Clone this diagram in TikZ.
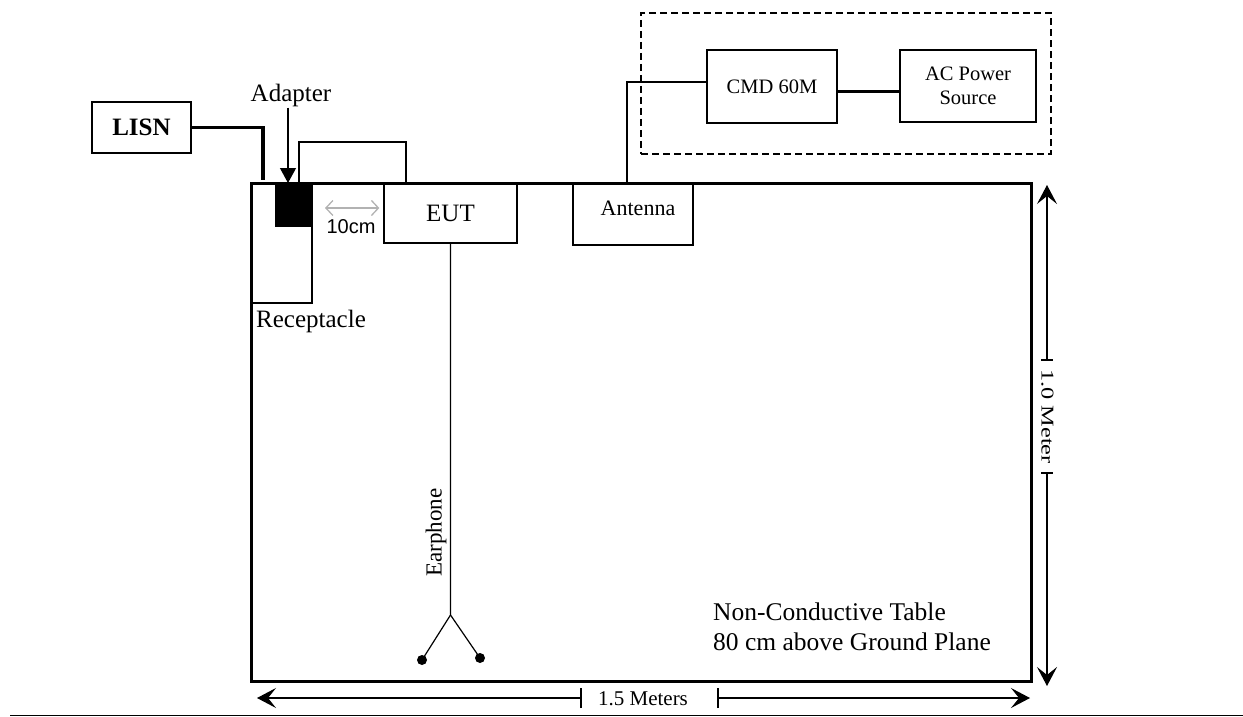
\documentclass[tikz,border=0pt]{standalone}
\usepackage{fontspec}
\setmainfont{Liberation Serif}
\newfontfamily\arialfont{Liberation Sans}
\usetikzlibrary{arrows.meta}
\tikzset{
  boxnode/.style={draw,line width=1.3pt,inner sep=0pt,rectangle},
  thickcable/.style={line width=3.2pt},
  thincable/.style={line width=1.2pt},
  dimline/.style={line width=1.2pt},
  lbl/.style={inner sep=0pt},
  fbig/.style={font=\fontsize{25}{29}\selectfont},
  fmid/.style={font=\fontsize{20.5}{24}\selectfont},
  dot/.style={circle,fill=black,inner sep=0pt,minimum size=10pt}
}
\begin{document}
\begin{tikzpicture}[x=1pt,y=-1pt,>={Stealth[length=19pt,width=20pt,inset=8pt]}]
\useasboundingbox (0,0) rectangle (1243,717);
% table
\node[boxnode,line width=3pt,minimum width=780pt,minimum height=498pt] (table) at (641,432) {};
% LISN
\node[boxnode,minimum width=99pt,minimum height=51pt,font=\fontsize{25}{29}\selectfont\bfseries] (lisn) at (141.5,127.5) {LISN};
% receptacle and adapter
\node[boxnode,minimum width=61pt,minimum height=120pt] (recept) at (281.5,243) {};
\node[fill=black,inner sep=0pt,minimum width=36pt,minimum height=44pt] (adapter) at (293,205) {};
\node[lbl,fbig,anchor=base west] (receptlab) at (256,327) {Receptacle};
\node[lbl,fbig,anchor=base] (adaplab) at (291,102) {Adapter};
\coordinate (adtip) at (288,183);
\draw[thincable,-{Triangle[length=15pt,width=16pt]}] (adaplab.south -| adtip) -- (adtip);
\coordinate (lisnend) at (263,180);
\draw[thickcable] (lisn.east) -| (lisnend);
% EUT
\node[boxnode,minimum width=133pt,minimum height=59pt,fbig] (eut) at (450.5,213.5) {EUT};
\coordinate (loopa) at (299,183);
\coordinate (loopb) at (406,142);
\draw[line width=1.3pt] (loopa) |- (loopb) -- (loopb |- eut.north);
% 10cm
\coordinate (tenl) at (325,208);
\draw[gray!60,line width=1.3pt,shorten >=4pt,{Straight Barb[length=7pt,width=15pt]}-{Straight Barb[length=7pt,width=15pt]}] (tenl) -- (tenl -| eut.west);
\node[lbl,font=\arialfont\fontsize{20}{24}\selectfont,anchor=base] (tenlab) at (351,233) {10cm};
% earphone
\coordinate (split) at (eut.south |- 0,615);
\node[dot] (ear1) at (422,660) {};
\node[dot] (ear2) at (480,658) {};
\draw[thincable] (eut.south) -- (split) -- (ear1.center);
\draw[thincable] (split) -- (ear2.center);
\node[lbl,rotate=90,anchor=base west,font=\fontsize{23}{27}\selectfont] (earlab) at (441.5,577) {Earphone};
% test equipment
\node[draw,line width=1.3pt,dash pattern=on 7pt off 4pt,inner sep=0pt,minimum width=410pt,minimum height=141pt] (group) at (846,83.5) {};
\node[boxnode,minimum width=130pt,minimum height=73pt,fmid] (cmd) at (772,86.5) {CMD 60M};
\node[boxnode,minimum width=136pt,minimum height=72pt,fmid,align=center] (ac) at (968,86) {AC Power\\Source};
\coordinate (cmdout) at ([yshift=-5pt]cmd.east);
\draw[line width=3pt] (cmdout) -- (cmdout -| ac.west);
% antenna
\node[boxnode,minimum width=120pt,minimum height=62pt] (ant) at (633,214) {};
\node[lbl,font=\fontsize{22}{26}\selectfont,anchor=base] (antlab) at (638,215) {Antenna};
\coordinate (antc) at (627,183);
\coordinate (cmdin) at ([yshift=4.5pt]cmd.west);
\draw[thincable] (antc) |- (cmdin);
% vertical dimension
\coordinate (vt) at (1047,185);
\coordinate (vk1) at (1047,360);
\coordinate (vk2) at (1047,473);
\coordinate (vb) at (1047,686);
\draw[dimline,<-] (vt) -- (vk1);
\draw[dimline,->] (vk2) -- (vb);
\draw[dimline] ([xshift=-6pt]vk1) -- ([xshift=6pt]vk1);
\draw[dimline] ([xshift=-6pt]vk2) -- ([xshift=6pt]vk2);
\node[lbl,rotate=-90,font=\fontsize{18}{22}\selectfont] (vlab) at (1047.5,416.5) {\scalebox{1.35}[1]{1.0 Meter}};
% horizontal dimension
\coordinate (hl) at (257,698);
\coordinate (hk1) at (581,698);
\coordinate (hk2) at (718,698);
\coordinate (hr) at (1030,698);
\draw[dimline,<-] (hl) -- (hk1);
\draw[dimline,->] (hk2) -- (hr);
\draw[dimline] ([yshift=-10pt]hk1) -- ([yshift=10pt]hk1);
\draw[dimline] ([yshift=-10pt]hk2) -- ([yshift=10pt]hk2);
\node[lbl,font=\fontsize{21}{25}\selectfont,anchor=base] (hlab) at (643,705) {1.5 Meters};
% note
\node[lbl,align=left,anchor=north west,font=\fontsize{25.5}{29.5}\selectfont] (note) at (713,603) {Non-Conductive Table\\80 cm above Ground Plane};
% bottom rule
\coordinate (bl) at (10,715.5);
\coordinate (br) at (1243,715.5);
\draw[line width=1.5pt] (bl) -- (br);
\end{tikzpicture}
\end{document}
